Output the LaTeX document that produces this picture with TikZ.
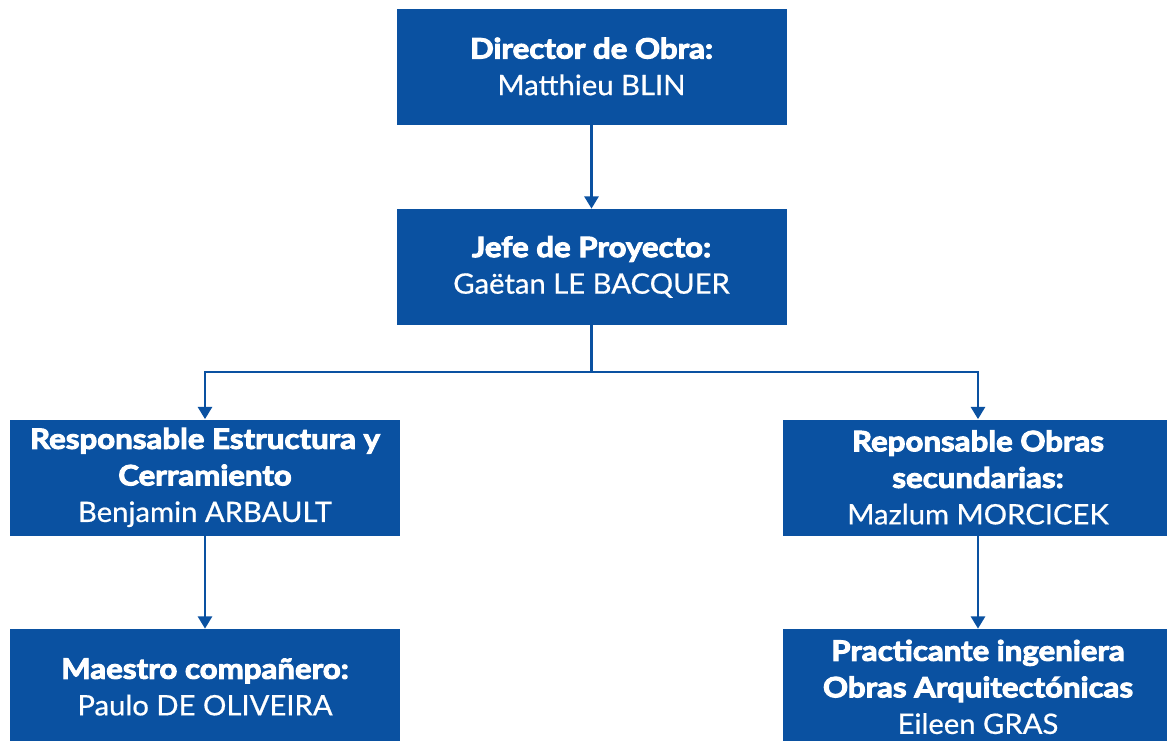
\documentclass[tikz,border=0pt]{standalone}
\usepackage{fontspec}
\setmainfont{Lato}[UprightFeatures={FakeBold=0.6,FakeStretch=1.04},
  BoldFeatures={FakeBold=3.5,FakeStretch=1.11}]
\usepackage{xcolor}
\usepackage{tikz}
\usetikzlibrary{positioning,arrows.meta}
\definecolor{obra}{HTML}{0A51A1}
\newcommand{\role}[1]{{\bfseries #1}}

\begin{document}
\begin{tikzpicture}[>={Triangle[width=8pt,length=7pt]},
  rolebox/.style={fill=obra,text=white,minimum width=7.8cm,minimum height=2.32cm,
    align=center,inner sep=0pt,font=\fontsize{16}{20.8}\selectfont},
  link/.style={->,obra,line width=1.5pt}]
\clip (0,0) rectangle (23.34,-14.8);
% top of the chart
\node[rolebox] (dir) at (11.83,-1.33) {\role{Director de Obra:}\\Matthieu BLIN};
\node[rolebox] (jefe) at (11.83,-5.34) {\role{Jefe de Proyecto:}\\Gaëtan LE BACQUER};
% the two branches
\node[rolebox] (estr) at (4.10,-9.55) {\role{Responsable Estructura y}\\\role{Cerramiento}\\Benjamin ARBAULT};
\node[rolebox] (sec) at (19.56,-9.55) {\role{Reponsable Obras}\\\role{secundarias:}\\Mazlum MORCICEK};
\node[rolebox] (maes) at (4.10,-13.74) {\role{Maestro compañero:}\\Paulo DE OLIVEIRA};
\node[rolebox] (prac) at (19.56,-13.74) {\role{Practicante ingeniera}\\\role{Obras Arquitectónicas}\\Eileen GRAS};
% links
\coordinate (split) at (11.83,-7.44);
\draw[link] (dir) -- (jefe);
\draw[obra,line width=1.5pt] (jefe.south) -- (split);
\draw[link] (split) -| (estr.north);
\draw[link] (split) -| (sec.north);
\draw[link] (estr) -- (maes);
\draw[link] (sec) -- (prac);
\end{tikzpicture}
\end{document}
